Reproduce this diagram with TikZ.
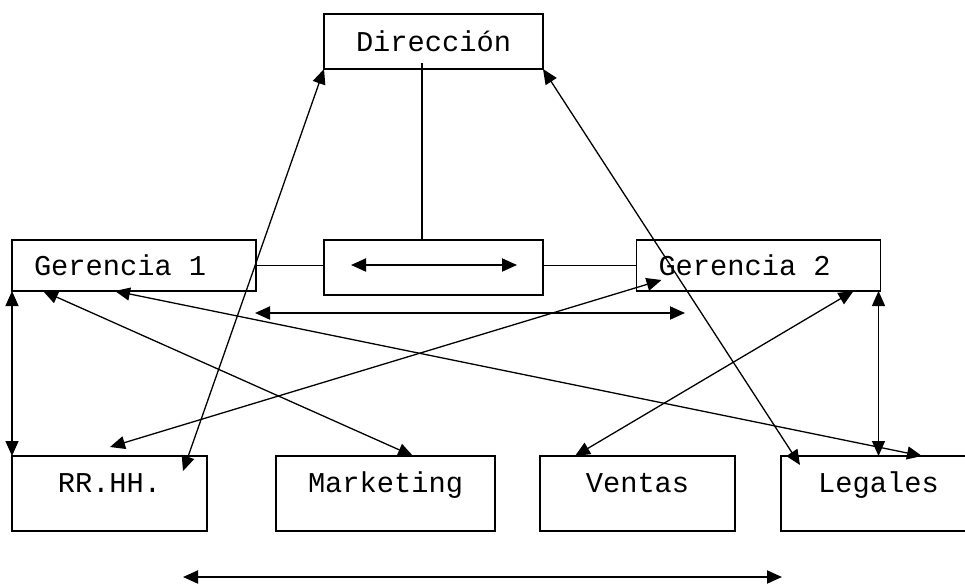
\documentclass[tikz,border=0pt]{standalone}
\usepackage{fontspec}
\setmonofont{Liberation Mono}[WordSpace={1,0,0}]
\usetikzlibrary{arrows.meta,positioning}

\begin{document}
\begin{tikzpicture}[x=1pt,y=-1pt,>={Triangle[length=15pt,width=13pt]},
  box/.style={draw,line width=1.8pt,inner sep=0pt,outer sep=0pt,font=\ttfamily\fontsize{28.7}{34}\selectfont},
  topbox/.style={box,minimum width=219pt,minimum height=55pt},
  gerbox/.style={box,minimum width=244pt,minimum height=51pt,inner xsep=22pt,text width=200pt,align=left},
  unitbox/.style={box,minimum width=195pt,text height=36pt,text depth=39pt},
  link/.style={line width=1.3pt},
  bar/.style={line width=2pt,<->}]
\useasboundingbox (0,0) rectangle (965,586);
\node[topbox] (dir) at (433.5,41.5) {Dirección};
\node[topbox] (mid) at (433.5,267.5) {};
\node[gerbox] (ger1) at (134,265.5) {Gerencia\hspace{0.6em}1};
\node[gerbox] (ger2) at (758.5,265.5) {Gerencia\hspace{0.6em}2};
\node[unitbox] (rrhh) at (109.5,493.5) {RR.HH.};
\node[unitbox,minimum width=219pt,right=69pt of rrhh] (mkt) {Marketing};
\node[unitbox,right=45pt of mkt] (ventas) {Ventas};
\node[unitbox,right=46pt of ventas] (legales) {Legales};
% free double arrows
\coordinate (midL) at (351,265); \coordinate (midR) at (517,265);
\coordinate (barL) at (255,313); \coordinate (barR) at (685,313);
\coordinate (baseL) at (183,577); \coordinate (baseR) at (782,577);
\draw[bar] (midL)--(midR);
\draw[bar] (barL)--(barR);
\draw[bar] (baseL)--(baseR);
% plain links
\draw[link] (ger1.east)--(ger1.east -| mid.west);
\draw[link] (mid.east |- ger2.west)--(ger2.west);
\draw[link] ([xshift=-11.5pt,yshift=6pt]dir.south)--([xshift=-11.5pt]mid.north);
% crossing arrows
\draw[link,<->] ([xshift=-24pt,yshift=-15pt]rrhh.north east)--(dir.south west);
\draw[link,<->] ([xshift=19pt,yshift=-9pt]legales.north west)--(dir.south east);
\draw[link,<->] ([xshift=31pt]ger1.south west)--([xshift=137pt]mkt.north west);
\draw[link,<->] ([xshift=103pt]ger1.south west)--([xshift=141pt]legales.north west);
\draw[link,<->] ([xshift=25pt,yshift=11pt]ger2.south west)--([xshift=98pt,yshift=9pt]rrhh.north west);
\draw[link,<->] ([xshift=-27pt]ger2.south east)--([xshift=35pt]ventas.north west);
\draw[link,<->] (ger1.south west)--(rrhh.north west);
\draw[link,<->] (legales.north |- ger2.south)--(legales.north);
\end{tikzpicture}
\end{document}
